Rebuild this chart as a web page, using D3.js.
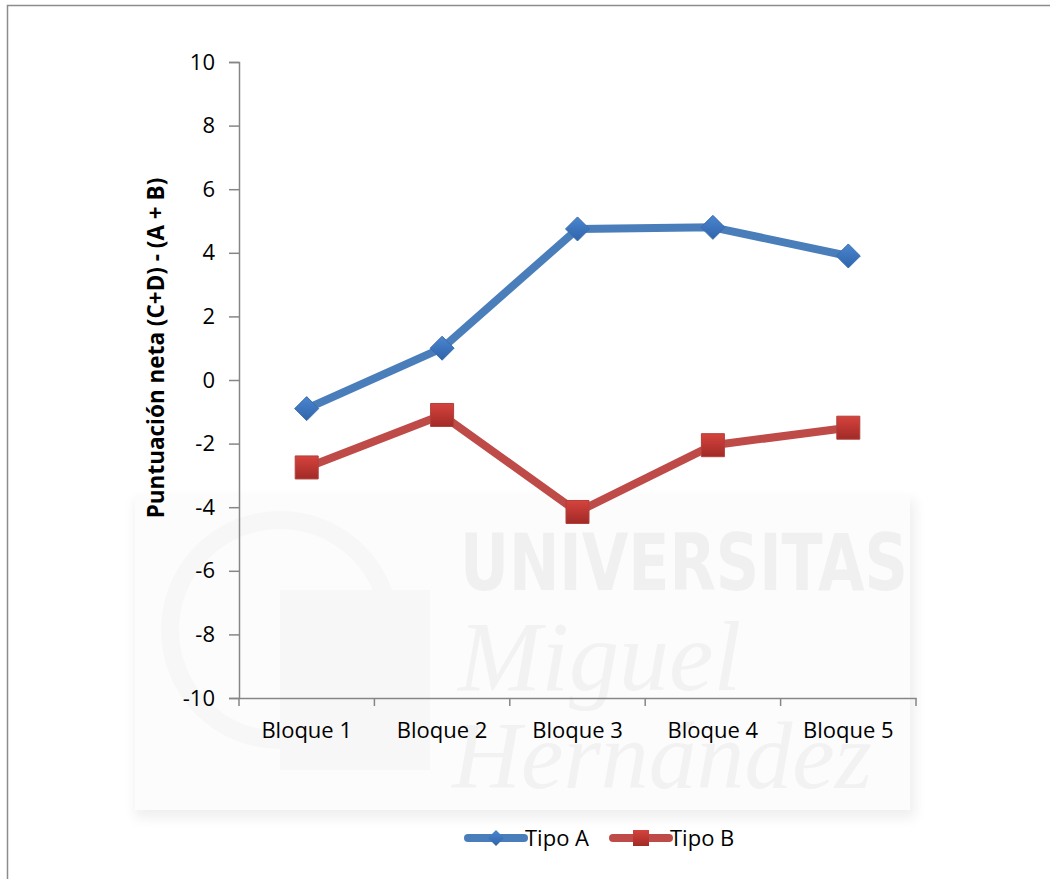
<!DOCTYPE html>
<html>
<head>
<meta charset="utf-8">
<script src="https://cdn.jsdelivr.net/npm/d3@7"></script>
<style>
  body { margin: 0; background: #fff; }
  text { font-family: "Open Sans", sans-serif; }
</style>
</head>
<body>
<div id="chart"></div>
<script>
const categories = ["Bloque 1", "Bloque 2", "Bloque 3", "Bloque 4", "Bloque 5"];
const tipoA = [-0.9, 1.0, 4.75, 4.8, 3.9];
const tipoB = [-2.75, -1.1, -4.15, -2.05, -1.5];
const yTicks = [-10, -8, -6, -4, -2, 0, 2, 4, 6, 8, 10];
const seriesNames = ["Tipo A", "Tipo B"];

const width = 1050, height = 879;
const margin = { top: 62, right: 134, bottom: 181, left: 239 };
const graphWidth = width - margin.left - margin.right;
const graphHeight = height - margin.top - margin.bottom;

const svg = d3.select('#chart').append('svg')
  .attr('width', width)
  .attr('height', height);

const defs = svg.append('defs');
const redGrad = defs.append('linearGradient').attr('id', 'redGrad')
  .attr('x1', 0).attr('y1', 0).attr('x2', 0).attr('y2', 1);
redGrad.append('stop').attr('offset', '0%').attr('stop-color', '#d6433d');
redGrad.append('stop').attr('offset', '100%').attr('stop-color', '#a12a27');
const blueGrad = defs.append('linearGradient').attr('id', 'blueGrad')
  .attr('x1', 0).attr('y1', 0).attr('x2', 0).attr('y2', 1);
blueGrad.append('stop').attr('offset', '0%').attr('stop-color', '#4a86cf');
blueGrad.append('stop').attr('offset', '100%').attr('stop-color', '#2f64ab');
const blur = defs.append('filter').attr('id', 'soft').attr('x', '-10%').attr('y', '-10%').attr('width', '120%').attr('height', '120%');
blur.append('feGaussianBlur').attr('stdDeviation', 6);

// outer frame (only left and top edges are visible)
svg.append('path')
  .attr('d', 'M7.5,879 V5.5 H1050')
  .attr('fill', 'none')
  .attr('stroke', '#8c8c8c')
  .attr('stroke-width', 1.5);

// faint watermark behind the plot
const wm = svg.append('g').attr('class', 'watermark');
wm.append('rect').attr('x', 135).attr('y', 500).attr('width', 780).attr('height', 318)
  .attr('fill', '#efefef').attr('filter', 'url(#soft)');
wm.append('rect').attr('x', 135).attr('y', 495).attr('width', 775).attr('height', 315)
  .attr('fill', '#fcfcfc');
wm.append('circle').attr('cx', 280).attr('cy', 630).attr('r', 110)
  .attr('fill', 'none').attr('stroke', '#f7f7f7').attr('stroke-width', 18);
wm.append('rect').attr('x', 280).attr('y', 590).attr('width', 150).attr('height', 180).attr('fill', '#f7f7f7');
wm.append('text').attr('x', 460).attr('y', 590)
  .style('font-family', '"DejaVu Sans", sans-serif').style('font-weight', 'bold')
  .style('font-size', '78px').attr('textLength', 448).attr('lengthAdjust', 'spacingAndGlyphs')
  .attr('fill', '#f0f0f0').text('UNIVERSITAS');
wm.append('text').attr('x', 458).attr('y', 690)
  .style('font-family', '"Liberation Serif", serif').style('font-style', 'italic')
  .style('font-size', '100px').attr('fill', '#f2f2f2').text('Miguel');
wm.append('text').attr('x', 452).attr('y', 788)
  .style('font-family', '"Liberation Serif", serif').style('font-style', 'italic')
  .style('font-size', '96px').attr('textLength', 420).attr('lengthAdjust', 'spacingAndGlyphs')
  .attr('fill', '#f2f2f2').text('Hernández');

const chart = svg.append('g')
  .attr('transform', `translate(${margin.left},${margin.top})`);

const xScale = d3.scaleBand()
  .domain(categories)
  .range([0, graphWidth]);

const yScale = d3.scaleLinear()
  .domain([-10, 10])
  .range([graphHeight, 0]);

// y axis
const yAxis = d3.axisLeft(yScale).tickValues(yTicks).tickSize(10).tickPadding(14).tickFormat(d3.format('d'));
const yG = chart.append('g').call(yAxis);
yG.select('.domain').attr('stroke', '#868686').attr('stroke-width', 1.5);
yG.selectAll('.tick line').attr('stroke', '#868686').attr('stroke-width', 1.5);
yG.selectAll('.tick text')
  .style('font-family', '"Open Sans", sans-serif')
  .style('font-size', '22px')
  .attr('fill', '#000')
  .text(d => d < 0 ? '-' + Math.abs(d) : d);

// x axis
const xAxis = d3.axisBottom(xScale).tickSize(0).tickPadding(24);
const xG = chart.append('g')
  .attr('transform', `translate(0,${graphHeight})`)
  .call(xAxis);
xG.select('.domain').attr('stroke', '#868686').attr('stroke-width', 1.5);
xG.selectAll('.tick text')
  .style('font-family', '"Open Sans", sans-serif')
  .style('font-size', '22px')
  .attr('fill', '#000');
// boundary tick marks between categories
xG.selectAll('.boundary')
  .data(categories.concat(['end']))
  .enter().append('line')
  .attr('x1', (d, i) => i * xScale.bandwidth())
  .attr('x2', (d, i) => i * xScale.bandwidth())
  .attr('y1', 0).attr('y2', 8)
  .attr('stroke', '#868686').attr('stroke-width', 1.5);

// y axis title
svg.append('text')
  .attr('transform', 'translate(164,348) rotate(-90)')
  .attr('text-anchor', 'middle')
  .style('font-family', '"Open Sans", sans-serif')
  .style('font-weight', 'bold')
  .style('font-size', '22.5px')
  .attr('fill', '#000')
  .text('Puntuación neta (C+D) - (A + B)');

const line = d3.line()
  .x((d, i) => xScale(categories[i]) + xScale.bandwidth() / 2)
  .y(d => yScale(d));

const lineColors = ['#4a7ebb', '#be4b48'];
const diamond = s => `M0,${-s} L${s},0 L0,${s} L${-s},0 Z`;
const square = s => `M${-s},${-s} H${s} V${s} H${-s} Z`;

[tipoA, tipoB].forEach((data, idx) => {
  chart.append('path')
    .datum(data)
    .attr('fill', 'none')
    .attr('stroke', lineColors[idx])
    .attr('stroke-width', 8)
    .attr('stroke-linejoin', 'round')
    .attr('d', line);

  chart.selectAll(`.marker-${idx}`)
    .data(data)
    .enter().append('path')
    .attr('class', `marker-${idx}`)
    .attr('transform', (d, i) => `translate(${xScale(categories[i]) + xScale.bandwidth() / 2},${yScale(d)})`)
    .attr('d', idx === 0 ? diamond(12) : square(11.5))
    .attr('fill', idx === 0 ? 'url(#blueGrad)' : 'url(#redGrad)')
    .attr('stroke', idx === 0 ? '#3a6cae' : '#b0403b')
    .attr('stroke-width', 1);
});

// legend
const legend = svg.append('g').attr('transform', 'translate(0,838)');
const legendX = [468, 613];
seriesNames.forEach((name, idx) => {
  const g = legend.append('g').attr('transform', `translate(${legendX[idx]},0)`);
  g.append('line')
    .attr('x1', 0).attr('x2', 56).attr('y1', 0).attr('y2', 0)
    .attr('stroke', lineColors[idx]).attr('stroke-width', 8).attr('stroke-linecap', 'round');
  g.append('path')
    .attr('transform', 'translate(28,0)')
    .attr('d', idx === 0 ? diamond(8) : square(8))
    .attr('fill', idx === 0 ? 'url(#blueGrad)' : 'url(#redGrad)');
  g.append('text')
    .attr('x', 57).attr('y', 8)
    .style('font-family', '"Open Sans", sans-serif')
    .style('font-size', '22px')
    .attr('fill', '#000')
    .text(name);
});
</script>
</body>
</html>
